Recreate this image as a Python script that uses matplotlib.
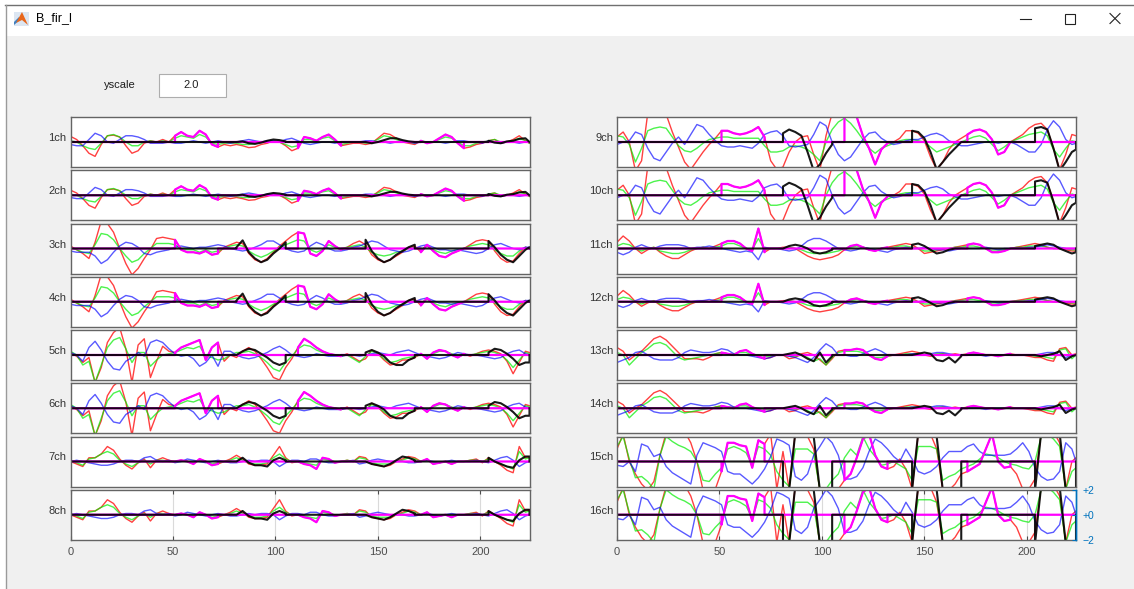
import numpy as np
import matplotlib
matplotlib.use("Agg")
import matplotlib.pyplot as plt
from matplotlib.patches import Rectangle, Polygon

plt.rcParams['font.family'] = ['Liberation Sans', 'DejaVu Sans']

# ------------------------------------------------------------------ data
WINDOW_TITLE = 'B_fir_l'
YSCALE_LABEL = 'yscale'
YSCALE = 2.0
CHANNELS = ['1ch', '2ch', '3ch', '4ch', '5ch', '6ch', '7ch', '8ch',
            '9ch', '10ch', '11ch', '12ch', '13ch', '14ch', '15ch', '16ch']
X_MAX = 224
XTICKS = [0, 50, 100, 150, 200]
RIGHT_TICKS = [2, 0, -2]
RIGHT_TICK_LABELS = ['+2', '+0', '\u22122']

# sample positions of the traces (every 3 samples + last sample)
X_SAMPLES = list(range(0, 223, 3)) + [224]

A_RED = [0.45,0.2,-0.3,-0.9,-1.15,-0.2,0.5,0.55,0.4,-0.3, -0.9,-0.7,-0.1,0.1,0.0,0.2,0.0,0.5,0.8,0.5,
         0.4,0.9,0.6,-0.2,-0.4,-0.2,-0.3,-0.2,-0.3,-0.45, -0.4,-0.2,-0.1,0.1,0.0,-0.3,-0.7,-0.5,0.4,0.3,
         0.1,0.4,0.6,0.2,-0.3,-0.2,-0.1,-0.1,-0.2,-0.1, 0.3,0.7,0.6,0.3,0.0,-0.1,-0.2,0.1,-0.1,0.0,
         0.3,0.6,0.4,-0.1,-0.5,-0.4,-0.2,-0.1,0.1,0.2, -0.1,0.0,0.2,0.5,0.1,-0.1]
A_GREEN = [0.1,0.0,-0.3,-0.5,-0.6,-0.1,0.5,0.6,0.4,0.0, -0.3,-0.3,0.0,0.1,0.0,0.1,0.0,0.3,0.5,0.4,
           0.3,0.6,0.4,-0.1,-0.2,-0.1,-0.1,-0.1,-0.2,-0.2, -0.1,0.0,0.0,0.1,0.0,-0.2,-0.4,-0.3,0.2,0.2,
           0.1,0.3,0.4,0.1,-0.2,-0.1,0.0,0.0,-0.1,0.0, 0.2,0.5,0.4,0.2,0.0,0.0,-0.1,0.1,0.0,0.0,
           0.2,0.4,0.3,0.0,-0.3,-0.3,-0.1,0.0,0.1,0.2, 0.0,0.0,0.1,0.3,0.1,-0.1]
A_BLUE = [-0.2,-0.3,-0.3,0.2,0.7,0.5,0.0,-0.1,0.2,0.5, 0.5,0.4,0.2,-0.1,-0.1,-0.1,0.0,-0.1,-0.1,0.0,
          0.1,0.0,-0.1,0.0,0.1,0.0,-0.1,0.0,0.1,0.2, 0.1,0.0,0.1,0.1,0.0,0.2,0.3,0.1,-0.1,-0.2,
          -0.1,0.0,0.0,-0.1,0.0,0.0,0.0,0.0,0.1,0.1, 0.0,0.0,-0.1,0.0,0.1,0.0,-0.1,0.0,0.0,0.0,
          0.0,-0.1,0.0,0.1,0.1,0.0,0.0,-0.1,0.1,0.0, -0.1,0.0,0.0,-0.1,0.0,0.0]
A_BLACK = [0.0,0.05,-0.1,-0.15,-0.05,0.1,0.2,0.15,0.05, 0.0,-0.1,0.0,0.15,0.3,0.3,0.15,0.05,0.0,
           0.1,-0.05,-0.1,0.05,0.1,0.25,0.3,0.0]

B_RED = [0.2,-0.1,-0.4,-0.8,0.5,2.2,2.0,1.3,0.0,-1.2, -2.1,-1.6,-0.8,-0.1,0.8,0.9,0.8,0.7,-0.1,-0.3,
         -0.3,-0.4,-0.2,-0.5,-0.4,0.1,0.3,0.5,0.4,-0.4, -0.9,-1.1,-0.8,-0.3,0.2,0.6,1.0,1.3,1.2,-0.4,
         -0.6,-0.2,0.6,0.2,-0.1,0.1,0.4,0.6,0.3,-0.5, -0.9,-1.1,-0.9,-0.6,-0.3,0.1,0.2,-0.3,0.3,-0.2,
         -0.6,-0.7,-0.4,-0.2,0.0,0.3,0.6,0.7,0.6,-0.2, -0.8,-1.1,-1.0,-0.4,0.1,0.0]
B_GREEN = [0.1,-0.1,-0.3,-0.4,0.3,1.2,1.1,0.7,0.0,-0.6, -1.1,-0.9,-0.4,0.0,0.4,0.4,0.4,0.3,0.0,-0.1,
           -0.1,-0.3,-0.1,-0.3,-0.2,0.0,0.2,0.3,0.2,-0.2, -0.5,-0.7,-0.5,-0.2,0.1,0.3,0.5,0.7,0.6,-0.1,
           -0.3,-0.1,0.3,0.1,0.0,0.1,0.2,0.3,0.1,-0.3, -0.5,-0.6,-0.5,-0.3,-0.2,0.0,0.1,-0.1,0.2,-0.1,
           -0.3,-0.4,-0.2,-0.1,0.0,0.2,0.3,0.4,0.3,-0.1, -0.4,-0.6,-0.6,-0.2,0.1,0.0]
B_BLUE = [-0.2,-0.3,-0.3,-0.3,-0.6,-1.2,-0.9,-0.3,0.2,0.5, 0.4,0.1,-0.4,-0.5,-0.3,-0.2,-0.1,0.1,0.2,0.1,
          0.0,0.1,0.1,0.2,0.3,0.2,0.0,-0.1,-0.2,-0.1, 0.1,0.3,0.6,0.6,0.3,0.0,-0.2,-0.3,-0.2,0.2,
          0.5,0.3,0.0,-0.2,-0.2,-0.1,0.1,0.2,0.4,0.6, 0.5,0.2,-0.1,-0.2,-0.3,-0.2,0.0,0.2,0.3,0.1,
          -0.1,-0.1,-0.2,-0.1,-0.2,-0.3,-0.4,-0.3,0.0,0.3, 0.4,0.2,0.0,-0.1,0.1,0.1]
B_BLACK = [0.1,0.65,-0.3,-0.8,-1.1,-0.9,-0.4,0.0,0.5, 0.7,-0.2,-0.8,-1.1,-0.9,-0.5,-0.2,0.1,0.3,
           0.6,0.1,-0.5,-0.9,-1.1,-0.6,-0.1,0.1]

C_RED = [0.2,-0.1,-0.6,-0.2,-2.2,-1.0,1.0,1.8,2.2,0.5, -2.2,0.8,1.3,-1.8,-0.5,0.7,0.3,0.2,0.6,0.8,
         1.0,1.2,-0.4,0.6,1.0,-0.5,0.0,-0.2,0.3,0.6, 0.3,-0.3,-1.0,-1.8,-2.0,-1.0,-0.3,0.6,1.3,1.0,
         0.6,0.3,0.1,0.0,-0.1,0.1,-0.2,-0.5,-0.3,0.4, 0.1,-0.4,-0.8,-0.7,-0.4,-0.4,-0.2,0.1,-0.3,0.2,
         0.4,0.3,0.0,-0.2,0.1,-0.1,0.1,0.3,0.4,0.3, 0.1,-0.5,-1.5,-0.6,0.3,0.2]
C_GREEN = [0.3,0.0,-0.8,-0.5,-2.2,-0.8,0.6,1.2,1.4,0.5, -0.6,0.2,0.2,-0.9,-0.4,0.0,0.1,0.2,0.4,0.6,
           0.5,0.7,-0.1,-0.2,-0.4,-0.3,0.0,0.2,0.2,0.3, 0.1,-0.2,-0.6,-1.1,-1.3,-0.6,-0.1,0.5,0.8,0.7,
           0.4,0.2,0.1,0.0,-0.1,0.0,-0.3,-0.6,-0.1,0.3, 0.1,-0.3,-0.6,-0.5,-0.3,-0.2,-0.1,0.0,-0.1,0.1,
           0.3,0.3,0.1,-0.1,0.0,0.0,0.1,0.2,0.3,0.2, 0.0,-0.4,-1.0,-0.4,0.2,0.1]
C_BLUE = [0.2,0.0,-0.5,0.6,1.1,0.4,-0.5,-1.1,-1.2,-0.5, -0.2,0.2,-0.1,1.0,1.2,1.0,0.5,0.1,-0.1,0.0,
          -0.3,-0.9,-0.6,0.0,-0.9,0.3,0.3,0.0,-0.2,-0.3, -0.2,0.0,0.2,0.5,0.7,0.4,0.0,-0.1,-0.2,-0.1,
          0.1,0.0,-0.1,-0.1,-0.1,0.0,0.0,-0.1,0.0,0.1, 0.2,0.1,0.0,0.2,0.3,0.4,0.2,0.0,-0.1,-0.2,
          -0.3,-0.2,0.0,0.2,0.1,0.0,0.0,-0.1,-0.2,-0.3, -0.2,0.1,0.3,0.4,0.1,0.0]
C_BLACK = [0.0,0.3,0.5,0.4,0.1,-0.2,-0.6,-0.8,-0.6, 0.2,0.4,0.2,-0.1,-0.6,-0.8,-0.8,-0.4,-0.2,
           0.2,0.5,0.4,0.1,-0.3,-0.8,-0.6,-0.6]

D_RED = [0.0,-0.2,-0.4,0.3,0.3,0.6,1.2,0.9,0.2,-0.3, -0.6,-0.1,0.2,-0.5,0.1,0.3,0.1,0.0,0.1,0.0,
         -0.2,0.2,0.0,-0.3,-0.2,0.0,0.2,0.5,0.2,-0.2, -0.3,-0.3,-0.2,0.5,1.2,0.3,-0.1,0.0,-0.2,-0.3,
         -0.6,0.3,0.2,-0.1,0.0,0.1,0.0,0.4,0.3,-0.2, -0.3,-0.4,-0.3,0.0,0.2,0.4,0.3,0.0,0.2,-0.2,
         -0.1,0.0,-0.2,0.0,0.0,0.1,0.2,-0.1,0.3,0.0, -0.3,-0.7,-0.9,1.2,0.3,0.4]
D_GREEN = [0.1,-0.1,-0.3,0.2,0.3,0.6,0.8,0.6,0.1,-0.2, -0.4,-0.1,0.1,-0.2,0.1,0.1,0.0,0.0,0.1,0.0,
           -0.1,0.1,0.0,-0.2,-0.1,0.0,0.1,0.3,0.1,-0.1, -0.2,-0.2,-0.1,0.3,0.6,0.2,0.0,0.0,-0.1,-0.2,
           -0.3,0.2,0.1,0.0,0.0,0.1,0.0,0.3,0.2,-0.1, -0.2,-0.2,-0.2,0.0,0.1,0.3,0.2,0.0,0.1,-0.1,
           -0.1,0.0,-0.1,0.0,0.0,0.1,0.1,0.0,0.2,0.0, -0.2,-0.4,-0.6,0.8,0.2,0.3]
D_BLUE = [0.0,0.1,0.0,-0.1,-0.2,-0.3,-0.3,-0.2,0.0,0.1, 0.1,0.0,0.3,0.4,0.1,0.0,0.1,-0.1,0.0,0.2,
          0.1,0.0,-0.1,0.0,0.1,0.0,-0.1,-0.1,0.0,0.1, 0.0,0.1,0.1,0.0,-0.4,-0.1,0.1,0.1,0.0,0.2,
          0.2,0.0,-0.1,-0.1,0.0,0.0,0.1,-0.2,-0.1,0.1, 0.2,0.1,0.0,0.0,0.0,-0.1,-0.1,0.0,0.1,0.0,
          -0.1,0.0,0.1,0.0,0.0,0.0,0.1,0.0,-0.1,0.1, 0.3,0.4,0.1,-0.4,-0.1,0.0]
D_BLACK = [0.0,0.3,-0.1,-0.3,-0.3,-0.4,0.1,0.3,0.1, 0.0,-0.2,-0.3,-0.4,-0.2,0.1,0.4,0.3,0.1,
           0.3,0.0,-0.2,-0.4,-0.5,0.1,0.4,0.4]

E_RED = [0.4,0.8,0.0,-2.3,-1.5,2.3,2.5,2.5,2.2,0.8, -0.4,-1.6,-2.2,-1.5,-0.8,-0.2,0.3,0.9,0.9,0.7,
         0.6,0.7,0.9,1.2,0.4,-1.5,-2.2,-2.0,-0.8,0.0, 0.4,0.5,-1.0,-2.3,0.5,2.3,2.5,2.5,2.3,2.0,
         0.5,-0.5,-1.8,-0.6,-0.1,0.0,0.3,0.9,0.9,0.7, 0.1,-1.2,-2.2,-1.6,-0.6,0.0,0.3,0.6,0.9,1.0,
         0.8,0.2,-1.0,-0.8,0.0,0.3,0.6,1.1,1.4,1.5, 1.0,-0.5,-2.2,-1.0,0.6,0.5]
E_GREEN = [0.5,0.4,-0.2,-1.6,-0.5,0.9,1.1,1.2,1.1,0.4, -0.3,-0.7,-0.8,-0.5,-0.1,0.2,0.3,0.4,0.4,0.3,
           0.3,0.3,0.3,0.3,-0.3,-0.8,-0.8,-0.7,-0.4,-0.3, -0.4,-0.6,-1.0,-1.5,0.0,1.0,1.6,1.9,1.5,0.9,
           0.2,-0.5,-0.9,-0.5,-0.3,-0.1,0.1,0.2,0.2,0.1, 0.0,-0.4,-0.8,-0.6,-0.4,-0.2,0.0,0.2,0.4,0.5,
           0.3,-0.2,-0.7,-0.4,0.0,0.2,0.4,0.6,0.7,0.8, 0.5,-0.6,-1.2,-0.5,0.1,0.0]
E_BLUE = [-0.2,0.0,0.1,0.8,0.6,-0.5,-1.3,-1.5,-0.8,-0.1, 0.4,-0.2,0.6,1.4,1.2,0.6,0.1,-0.3,-0.4,-0.4,
          -0.3,-0.4,-0.5,-0.1,0.6,0.8,0.9,0.5,-0.3,-0.4, -0.3,-0.2,0.6,1.6,1.3,0.0,-1.0,-1.5,-1.2,-0.5,
          0.2,0.7,0.8,0.3,0.0,-0.2,-0.1,0.1,0.2,0.2, 0.4,0.6,0.7,0.5,0.1,-0.1,-0.3,-0.3,-0.2,-0.1,
          0.0,0.0,-0.1,0.0,0.0,-0.2,-0.5,-0.8,-0.8,-0.2, 1.0,1.7,1.2,0.2,-0.2,-0.1]
E_BLACK = [0.7,1.0,0.8,0.5,-0.8,-2.3,-1.8,-0.9,-0.2, 0.9,0.8,0.3,-0.8,-2.2,-1.6,-1.0,-0.5,0.0,
           1.1,1.2,1.0,-0.5,-2.3,-1.6,-0.8,-0.6]

F_RED = [0.5,1.0,0.6,0.0,-0.4,-0.1,0.1,-0.3,-0.6,-0.8, -0.8,-0.5,-0.2,0.0,0.1,0.0,0.2,0.4,0.6,0.6,
         0.4,0.0,-0.2,1.6,-0.3,0.0,0.0,0.1,0.1,0.0, -0.3,-0.6,-0.8,-0.9,-0.8,-0.7,-0.5,-0.1,0.2,0.3,
         0.1,-0.1,-0.2,0.0,0.1,0.2,0.3,0.4,0.3,0.0, -0.4,-0.3,-0.2,-0.1,0.0,0.1,0.2,0.3,0.4,0.3,
         0.0,-0.3,-0.3,-0.2,0.0,0.1,0.2,0.3,0.4,0.3, 0.1,0.0,0.0,-0.1,-0.2,-0.2]
F_GREEN = [0.2,0.4,0.3,0.0,-0.2,0.0,0.1,-0.2,-0.3,-0.4, -0.4,-0.3,-0.1,0.0,0.1,0.0,0.1,0.2,0.4,0.4,
           0.2,0.0,-0.1,0.8,-0.1,0.0,0.0,0.0,0.1,0.0, -0.1,-0.3,-0.4,-0.4,-0.4,-0.3,-0.2,0.0,0.1,0.2,
           0.1,0.0,-0.1,0.0,0.0,0.1,0.2,0.2,0.1,0.0, -0.2,-0.2,-0.1,0.0,0.0,0.1,0.1,0.2,0.2,0.1,
           0.0,-0.2,-0.2,-0.1,0.0,0.1,0.1,0.2,0.2,0.2, 0.1,0.0,0.0,0.0,-0.1,-0.1]
F_BLUE = [-0.3,-0.5,-0.3,0.1,0.3,0.1,0.0,0.2,0.3,0.3, 0.3,0.2,0.0,0.1,0.1,0.2,0.1,0.0,-0.1,-0.2,
          -0.3,-0.2,-0.3,-0.9,0.1,0.0,0.0,-0.1,-0.2,-0.1, 0.2,0.6,0.8,0.8,0.6,0.3,0.0,-0.1,-0.2,-0.1,
          0.1,0.0,-0.1,-0.2,-0.3,-0.1,0.0,0.1,0.0,0.0, 0.1,0.0,-0.1,-0.1,-0.2,-0.1,0.0,0.0,0.0,0.0,
          0.1,0.0,-0.1,0.0,0.0,0.0,0.0,0.1,0.1,0.2, 0.3,0.2,0.1,0.0,0.0,0.0]
F_BLACK = [0.0,0.2,0.3,0.2,0.0,-0.3,-0.4,-0.3,-0.1, 0.3,0.4,0.2,-0.1,-0.4,-0.3,-0.1,0.0,0.0,
           0.2,0.3,0.4,0.3,0.0,-0.2,-0.4,-0.3]

G_RED = [0.6,0.3,-0.4,0.0,0.3,0.8,1.3,1.5,1.2,0.7, 0.2,-0.3,-0.3,-0.3,-0.4,-0.2,0.1,0.2,0.1,0.0,
         0.3,0.4,0.1,-0.1,-0.3,-0.2,0.0,0.0,-0.3,-0.2, 0.1,0.2,0.0,-0.4,-0.8,-0.3,0.3,0.4,0.4,0.5,
         0.4,0.0,-0.3,-0.4,-0.1,0.0,0.1,0.2,0.3,0.2, 0.0,-0.1,0.0,0.1,0.0,0.1,0.0,0.1,0.2,0.1,
         0.0,0.0,-0.1,0.0,0.1,0.0,0.0,-0.1,-0.2,-0.2, -0.4,-0.5,0.5,0.6,0.0,0.1]
G_GREEN = [0.2,0.0,-0.8,-0.3,0.2,0.5,0.9,1.0,0.8,0.3, -0.2,-0.4,-0.3,-0.2,-0.1,0.0,0.1,0.2,0.1,0.1,
           0.2,0.2,0.0,0.0,-0.1,-0.1,0.0,0.0,-0.1,-0.1, 0.0,-0.2,-0.5,-0.3,-0.8,-0.2,0.2,0.3,0.3,0.3,
           0.2,0.0,-0.2,-0.2,-0.1,0.0,0.0,0.1,0.1,0.1, 0.0,0.0,0.1,0.1,0.0,0.0,0.0,0.0,0.1,0.0,
           0.0,0.0,0.0,0.0,0.0,0.0,0.0,0.0,-0.1,-0.1, -0.2,-0.3,0.4,0.5,-0.3,0.0]
G_BLUE = [-0.6,-0.4,-0.2,0.2,0.3,0.0,-0.3,-0.4,-0.4,-0.4, -0.2,0.2,0.4,0.3,0.2,0.2,0.3,0.5,0.4,0.1,
          0.0,0.0,-0.1,-0.2,-0.3,-0.2,0.0,0.0,-0.1,-0.2, -0.4,-0.6,-0.2,0.4,0.9,0.6,0.0,0.0,-0.1,-0.1,
          0.1,0.3,0.5,0.3,0.0,0.0,0.0,0.0,0.1,0.1, 0.0,0.1,0.2,0.2,0.1,0.0,0.0,0.0,0.0,0.0,
          -0.1,0.0,0.0,0.0,0.0,0.0,0.0,0.0,0.0,0.1, 0.2,0.2,0.0,-0.2,0.0,0.0]
G_BLACK = [0.0,0.1,0.2,0.0,-0.3,-0.5,0.2,-0.6,-0.1, 0.0,0.1,0.2,0.1,-0.4,-0.5,-0.2,-0.6,-0.1,
           0.0,-0.1,0.0,0.1,0.3,-0.4,-0.1,0.0]

H_RED = [1.0,2.2,0.0,-1.0,-1.8,-2.3,-1.6,0.5,2.3,2.4, 2.3,2.4,1.5,0.0,-2.3,-2.4,-2.2,-0.8,1.5,1.5,
         1.3,1.2,-0.5,1.7,1.4,2.2,-2.2,0.8,-2.2,2.3, 2.3,2.0,1.0,-2.3,-2.4,-2.4,-2.2,-1.5,-1.0,0.3,
         1.8,2.2,0.5,-0.4,-0.6,-0.4,0.2,-0.6,-2.2,2.2, 2.3,2.2,1.0,-2.3,-2.3,-1.8,-1.0,-0.8,-0.5,-0.2,
         1.0,2.2,0.0,-0.5,-0.4,-1.0,-2.2,-2.2,-1.4,2.2, 2.4,2.4,1.5,-2.2,0.0,0.3]
H_GREEN = [1.2,2.0,0.2,-1.3,-1.2,-1.6,-2.2,0.5,2.0,1.6, 1.3,1.1,0.8,0.0,-1.5,-1.6,-1.0,-0.5,1.0,1.2,
           1.0,0.7,-0.3,1.2,1.0,0.5,-0.8,-1.5,-2.0,1.0, 1.0,1.0,0.6,-2.2,-2.2,-1.5,-1.0,0.3,1.0,0.5,
           2.0,1.0,0.4,-0.3,-0.2,0.0,-0.3,-0.6,-1.5,1.2, 1.2,1.2,1.0,-1.5,-1.2,-1.0,-0.6,-0.4,-0.2,0.2,
           0.6,0.5,0.3,0.0,-0.2,-0.3,-0.5,-0.6,0.0,2.0, 2.2,1.8,1.2,-2.2,-0.8,-0.5]
H_BLUE = [-0.3,-0.4,0.0,-0.8,1.4,1.2,0.4,0.6,-0.4,-0.9, -1.2,-1.5,-1.8,0.5,1.5,1.3,1.1,0.8,-0.8,-1.0,
          -1.0,-1.4,-1.8,-1.3,-0.6,0.4,1.8,1.6,1.3,-1.2, -1.5,-1.0,0.5,1.2,2.0,1.5,0.5,-1.4,-1.4,-1.2,
          -0.5,0.8,1.8,1.5,1.0,0.4,0.0,1.0,0.2,-0.8, -1.0,-0.8,-0.4,0.3,0.8,0.8,0.8,1.2,1.4,0.8,
          0.5,0.5,0.5,0.5,0.6,1.0,1.5,0.8,-0.5,-1.2, -1.5,-1.4,-0.8,1.5,1.0,0.0]
H_BLACK = [-2.3,-2.3,2.3,2.3,2.3,2.0,-2.3,-2.3,-2.3, -2.3,2.3,2.3,2.3,2.0,-2.3,-2.3,-2.3,-2.3,
           -2.3,2.3,2.3,2.3,2.3,-2.3,-2.3,-2.3]

PATTERNS = {
    'A': (A_RED, A_GREEN, A_BLUE, A_BLACK), 'B': (B_RED, B_GREEN, B_BLUE, B_BLACK),
    'C': (C_RED, C_GREEN, C_BLUE, C_BLACK), 'D': (D_RED, D_GREEN, D_BLUE, D_BLACK),
    'E': (E_RED, E_GREEN, E_BLUE, E_BLACK), 'F': (F_RED, F_GREEN, F_BLUE, F_BLACK),
    'G': (G_RED, G_GREEN, G_BLUE, G_BLACK), 'H': (H_RED, H_GREEN, H_BLUE, H_BLACK),
}
CHANNEL_PATTERN = ['A', 'A', 'B', 'B', 'C', 'C', 'D', 'D',
                   'E', 'E', 'F', 'F', 'G', 'G', 'H', 'H']
CHANNEL_GAIN = [1.0, 0.9, 1.0, 1.0, 1.0, 1.0, 1.0, 1.0,
                1.0, 1.0, 1.0, 0.9, 1.0, 0.95, 1.0, 1.0]
# sample ranges where the magenta / black traces are active
MAGENTA_WINDOWS = [(51, 72), (111, 132), (171, 192)]
BLACK_WINDOWS = [(81, 105), (144, 168), (204, 224)]

# ------------------------------------------------------------------ layout (pixels)
W, H = 1134, 589
COL_LEFT = [70.5, 617.0]
AX_W = 459.0
ROW_TOP0 = 117.0
ROW_PITCH = 53.25
AX_H = 50.0

fig = plt.figure(figsize=(W / 100, H / 100), dpi=100)
fig.patch.set_facecolor('white')

bg = fig.add_axes([0, 0, 1, 1])
bg.set_xlim(0, W)
bg.set_ylim(H, 0)
bg.axis('off')
bg.set_zorder(0)

# window chrome
bg.add_patch(Rectangle((5.5, 35.5), W, H, facecolor='#F0F0F0', edgecolor='none'))
bg.add_patch(Rectangle((5.5, 5), W, 30.5, facecolor='white', edgecolor='none'))
bg.plot([5, W], [4.5, 4.5], color='#707070', lw=1.0)
bg.plot([5.5, 5.5], [4.5, H], color='#9A9A9A', lw=1.0)
# icon
bg.add_patch(Rectangle((13.5, 11.5), 15, 14, facecolor='#DCE6F2', edgecolor='none'))
bg.add_patch(Polygon([(14, 22), (19, 17), (21, 19), (14, 25)], closed=True, facecolor='#3F7FBF', edgecolor='none'))
bg.add_patch(Polygon([(16, 23), (22, 12), (28, 25), (22, 20)], closed=True, facecolor='#E8671C', edgecolor='none'))
bg.text(36, 18.5, WINDOW_TITLE, ha='left', va='center', fontsize=9, color='black')
# window buttons
bg.plot([1020, 1031], [18.5, 18.5], color='#222222', lw=0.8)
bg.add_patch(Rectangle((1065, 13.5), 10, 10, fill=False, edgecolor='#222222', lw=0.8))
bg.plot([1110, 1120], [13.5, 23.5], color='#222222', lw=0.8)
bg.plot([1110, 1120], [23.5, 13.5], color='#222222', lw=0.8)

# yscale control
bg.text(120, 85, YSCALE_LABEL, ha='center', va='center', fontsize=8, color='#1E1E1E')
bg.add_patch(Rectangle((158.5, 73.5), 67, 23, facecolor='white', edgecolor='#ADADAD', lw=0.8))
bg.text(191.5, 85, f'{YSCALE:.1f}', ha='center', va='center', fontsize=8, color='#1E1E1E')

xs_all = np.array(X_SAMPLES, dtype=float)


def windowed(xs, ys, windows):
    """trace inside the windows, zero outside (ys aligned with xs)"""
    px, py = [0.0], [0.0]
    for a, b in windows:
        m = (xs >= a) & (xs <= b)
        if not m.any():
            continue
        wx, wy = xs[m], ys[m]
        px += [wx[0]] + list(wx) + [wx[-1]]
        py += [0.0] + list(wy) + [0.0]
    px.append(X_MAX)
    py.append(0.0)
    return px, py


def window_points(windows):
    return np.concatenate([xs_all[(xs_all >= a) & (xs_all <= b)] for a, b in windows])


black_x = window_points(BLACK_WINDOWS)

for i, ch in enumerate(CHANNELS):
    col, row = divmod(i, 8)
    left = COL_LEFT[col]
    top = ROW_TOP0 + ROW_PITCH * row
    ax = fig.add_axes([left / W, 1 - (top + AX_H) / H, AX_W / W, AX_H / H])
    ax.set_zorder(1)
    ax.set_facecolor('white')
    ax.set_xlim(0, X_MAX)
    ax.set_ylim(-YSCALE, YSCALE)

    red, green, blue, black = PATTERNS[CHANNEL_PATTERN[i]]
    g = CHANNEL_GAIN[i]
    n = min(len(red), len(green), len(blue), len(xs_all))
    xs = xs_all[:n]
    r = np.array(red[:n]) * g
    gr = np.array(green[:n]) * g
    bl = np.array(blue[:n]) * g

    ax.plot(xs, r, color='#FF0000', lw=1.0, alpha=0.75)
    ax.plot(xs, gr, color='#00EE00', lw=1.0, alpha=0.7)
    ax.plot(xs, bl, color='#0000FF', lw=1.0, alpha=0.65)
    mx, my = windowed(xs, r, MAGENTA_WINDOWS)
    ax.plot(mx, my, color='#FF00FF', lw=1.6)
    m = min(len(black), len(black_x))
    kx, ky = windowed(black_x[:m], np.array(black[:m]) * g, BLACK_WINDOWS)
    ax.plot(kx, ky, color='#000000', lw=1.5, alpha=0.9)

    for sp in ax.spines.values():
        sp.set_color('#646464')
        sp.set_linewidth(1.0)
    ax.set_yticks([])
    if row == 7:
        ax.set_xticks(XTICKS)
        ax.set_xticklabels([str(t) for t in XTICKS])
        ax.tick_params(axis='x', direction='in', length=3, top=True, bottom=True,
                       labelsize=8, labelcolor='#4D4D4D', color='#4D4D4D', pad=5)
        ax.grid(axis='x', color='#DADADA', lw=0.8)
        ax.set_axisbelow(True)
    else:
        ax.set_xticks([])

    if i == 15:
        ax.spines['right'].set_color('#0072BD')
        tw = ax.twinx()
        tw.set_ylim(-YSCALE, YSCALE)
        tw.set_yticks(RIGHT_TICKS)
        tw.set_yticklabels(RIGHT_TICK_LABELS)
        tw.tick_params(axis='y', direction='in', length=3, labelsize=7.5,
                       labelcolor='#0072BD', color='#0072BD', pad=5)
        for name, sp in tw.spines.items():
            sp.set_visible(name == 'right')
        tw.spines['right'].set_color('#0072BD')
        tw.spines['right'].set_linewidth(1.0)

    bg.text(left - 4, top + 21, ch, ha='right', va='center', fontsize=8, color='#333333')

fig.savefig('out.png', dpi=100, facecolor=fig.get_facecolor())
